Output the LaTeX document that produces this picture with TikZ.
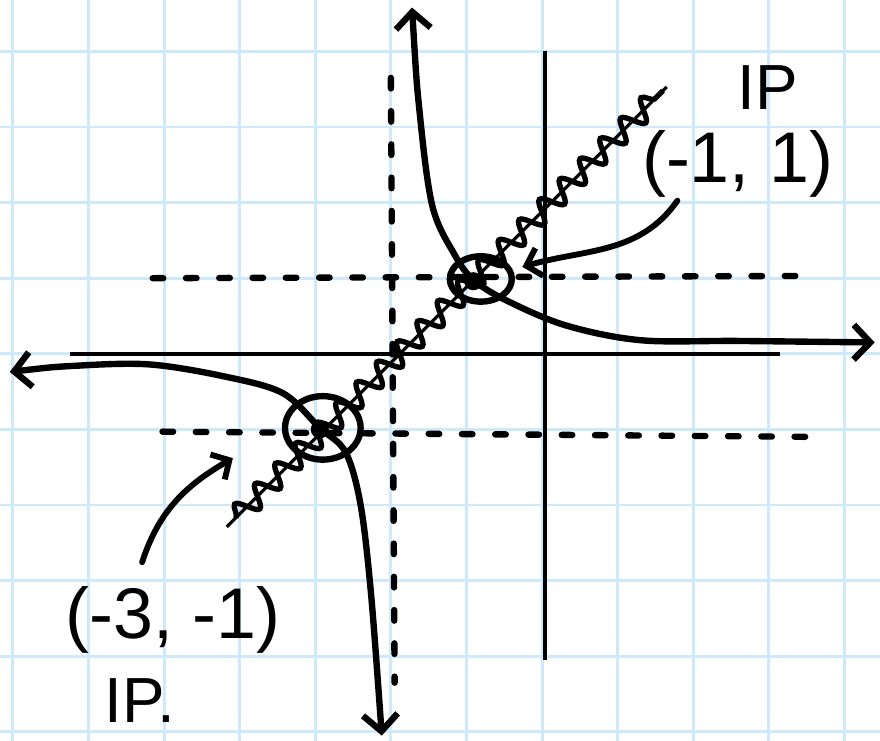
\documentclass[tikz,border=0pt]{standalone}
\usepackage{fontspec}
\setmainfont{Liberation Sans}
\usepackage{tikz}
\definecolor{gridblue}{RGB}{206,233,250}
\usetikzlibrary{arrows.meta,positioning,shapes.geometric,calc,decorations.pathmorphing}

\begin{document}
\begin{tikzpicture}[
  gridline/.style={draw=gridblue,line width=1.1pt},
  axisline/.style={draw=black,line width=1.7pt},
  asymline/.style={draw=black,line width=2.4pt,line cap=round,dash pattern=on 1.4mm off 3mm},
  branch/.style={draw=black,line width=2.4pt,line cap=round,line join=round,
    {Straight Barb[length=2.2mm,width=4.6mm]}-{Straight Barb[length=2.2mm,width=4.6mm]}},
  slantline/.style={draw=black,line width=1.2pt},
  squiggle/.style={draw=black,line width=2pt,decorate,
    decoration={snake,amplitude=1.4mm,segment length=3.8mm}},
  ring/.style={ellipse,draw=black,line width=2.4pt,inner sep=0pt},
  ipdot/.style={circle,fill=black,inner sep=0pt,minimum size=0.24cm},
  coordtext/.style={inner sep=1pt,font=\fontsize{27}{30}\selectfont},
  iptext/.style={inner sep=1pt,font=\fontsize{24}{26}\selectfont},
  pointer/.style={draw=black,line width=2.2pt,line cap=round,
    -{Straight Barb[length=1.8mm,width=3.8mm]}}
]
  \fill[white] (-7.17,-5.12) rectangle (4.47,4.68);
  \useasboundingbox (-7.17,-5.12) rectangle (4.47,4.68);
  \draw[gridline] (-7.17,-5.12) grid (4.47,4.68);

  \draw[axisline] (-6.24,0) -- (3.15,0);
  \draw[axisline] (0.04,4) -- (0.04,-4.05);

  \draw[asymline] (-2,3.65) -- (-1.95,-4.35);
  \draw[asymline] (-5.15,1) -- (3.42,1.03);
  \draw[asymline] (-5.02,-1.03) -- (3.72,-1.1);

  \draw[slantline] (-4.17,-2.29) -- (1.65,3.53);
  \draw[squiggle] (-4.05,-2.17) -- (1.6,3.48);

  \draw[branch] plot[smooth,tension=0.55] coordinates {(-1.72,4.58) (-1.62,3.2) (-1.45,1.95)
    (-1.15,1.3) (-0.91,0.98) (-0.5,0.72) (0.3,0.38) (1.3,0.18) (2.6,0.17) (4.4,0.15)};
  \draw[branch] plot[smooth,tension=0.55] coordinates {(-7.04,-0.24) (-6.2,-0.16) (-5.2,-0.14)
    (-4.2,-0.3) (-3.43,-0.52) (-2.94,-0.98) (-2.6,-1.3) (-2.4,-2.0) (-2.26,-3.2) (-2.12,-5.05)};

  \node[ring,minimum width=0.82cm,minimum height=0.6cm] (ringA) at (-0.81,0.99) {};
  \node[ring,minimum width=1.0cm,minimum height=0.84cm] (ringB) at (-2.9,-0.98) {};
  \node[ipdot] (ipA) at (-0.91,0.96) {};
  \node[ipdot] (ipB) at (-2.94,-1.0) {};

  \node[iptext] (ipnameA) at (2.99,3.52) {IP};
  \node[coordtext] (labA) at (2.59,2.51) {(-1, 1)};
  \node[coordtext] (labB) at (-4.88,-3.52) {(-3, -1)};
  \node[iptext] (ipnameB) at (-5.32,-4.58) {IP.};

  \coordinate (tipA) at (-0.26,1.15);
  \coordinate (tipB) at (-4.09,-1.38);
  \draw[pointer] ([xshift=-0.8cm]labA.south) to[out=-125,in=16] (tipA);
  \draw[pointer] ([xshift=-0.41cm,yshift=0.28cm]labB.north) to[out=72,in=-150] (tipB);
\end{tikzpicture}
\end{document}
